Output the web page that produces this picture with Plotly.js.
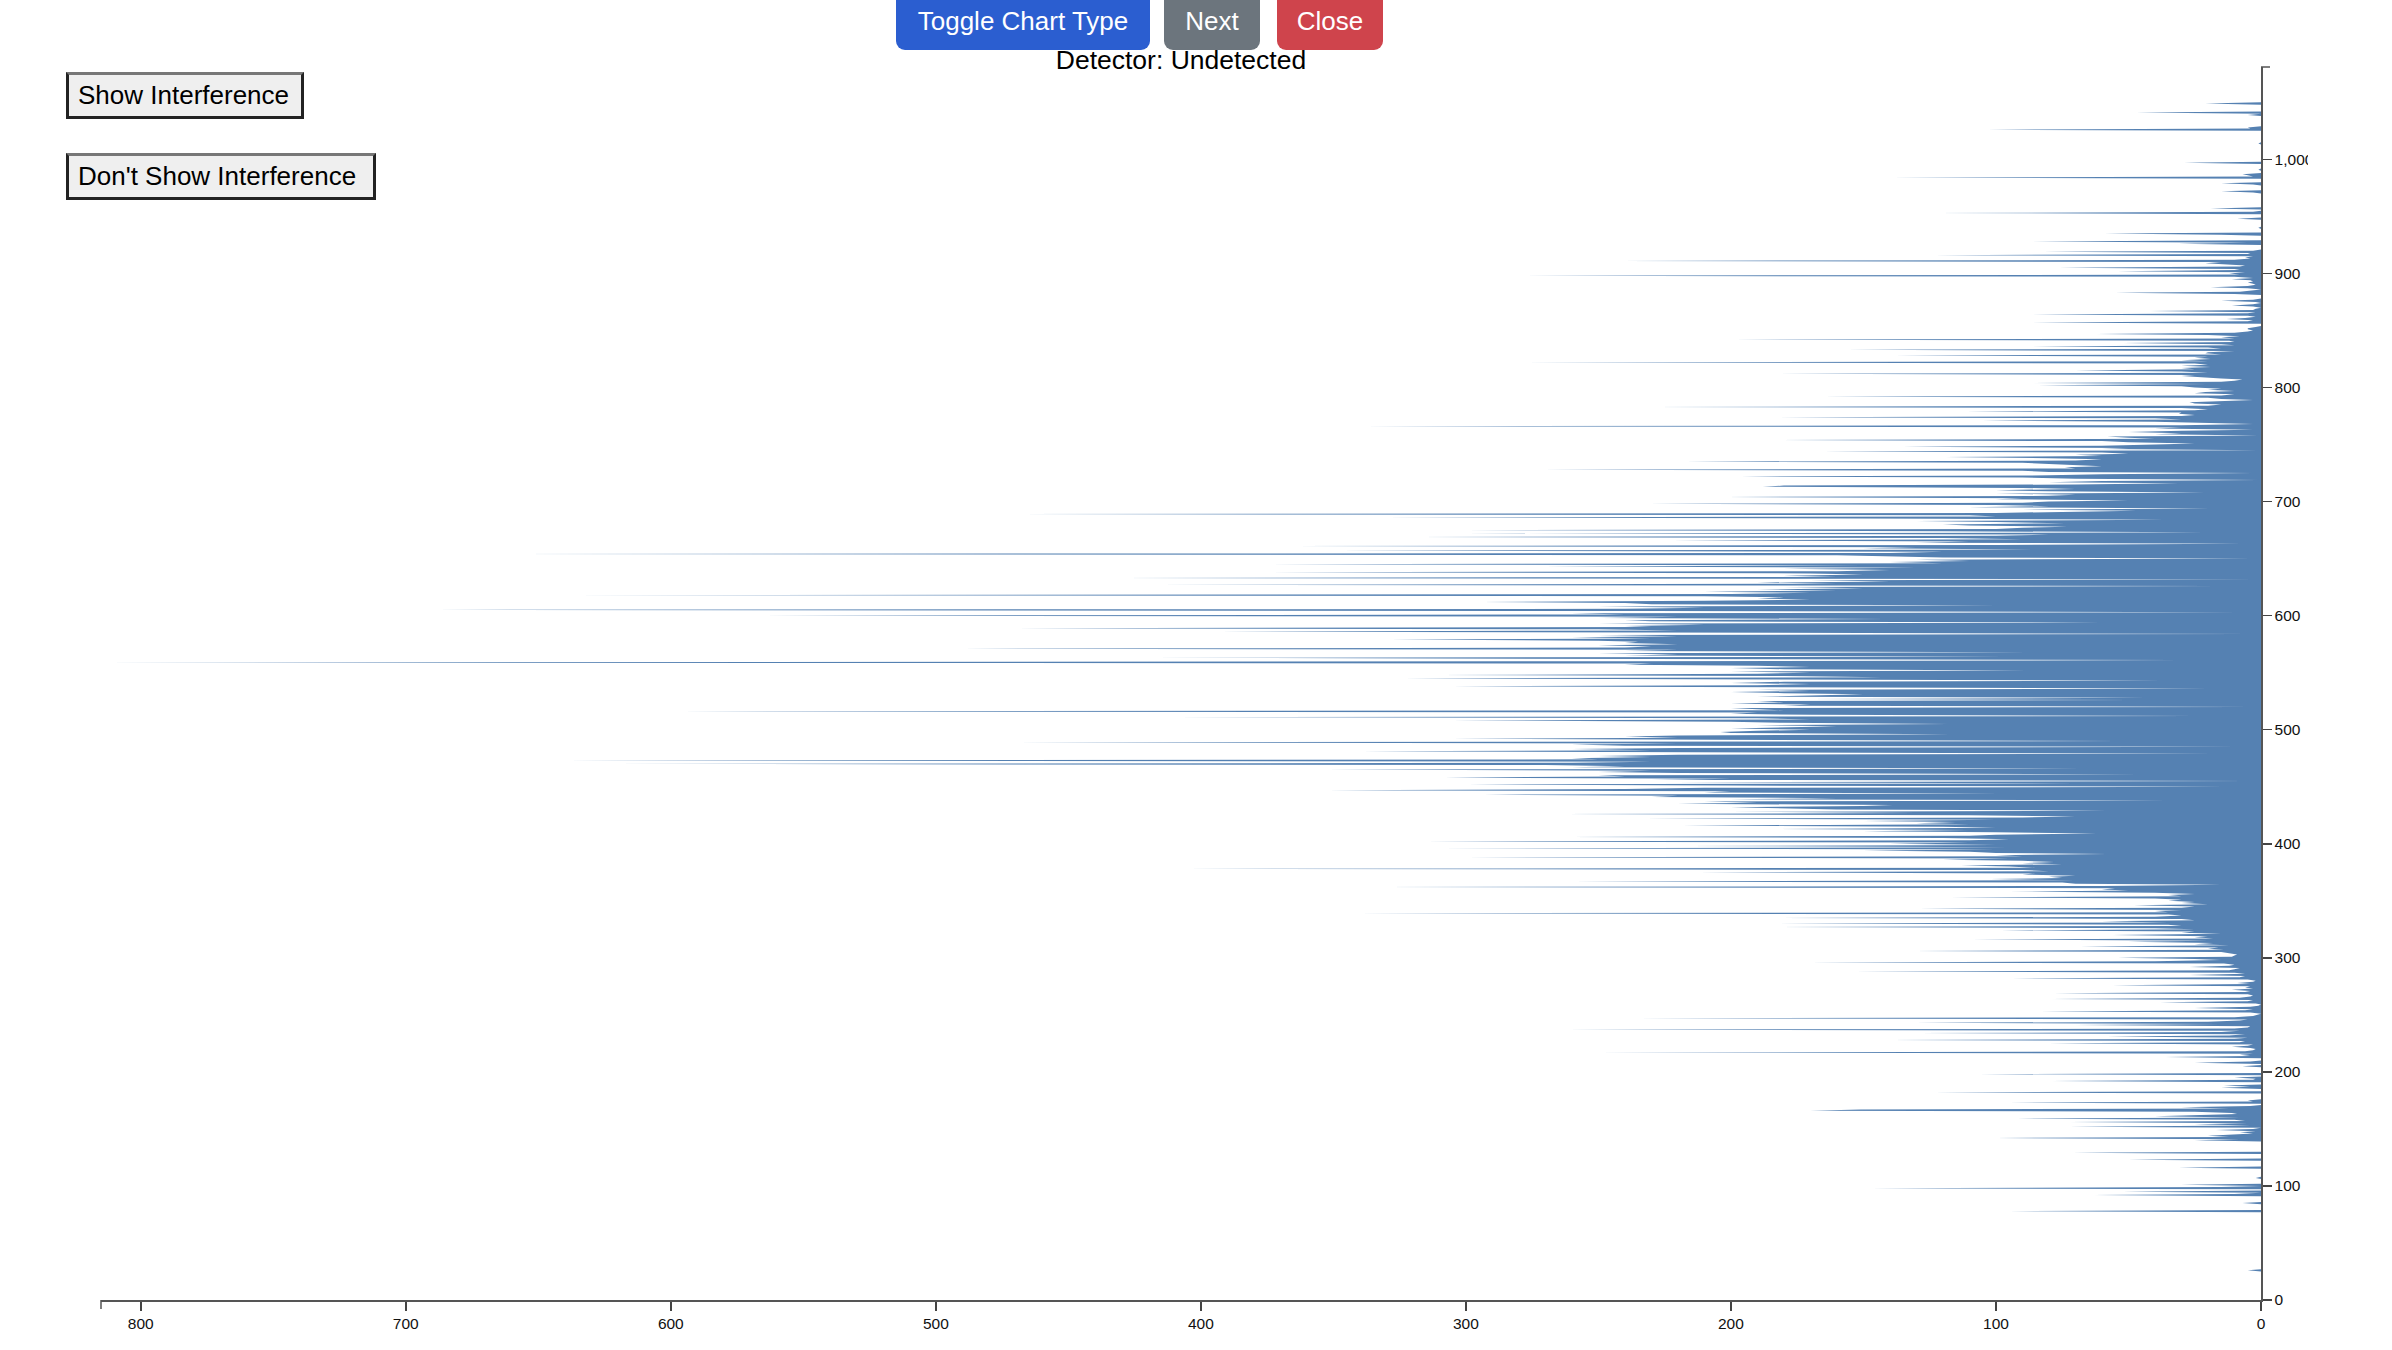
<!DOCTYPE html>
<html>
<head>
<meta charset="utf-8">
<script src="https://cdn.plot.ly/plotly-3.0.1.min.js"></script>
<style>
  body { margin: 0; background: #fff; font-family: Arial, "Liberation Sans", sans-serif; }
  #chart { position: absolute; left: 0; top: 0; width: 2308px; height: 1350px; overflow: hidden; }
  .btn {
    position: absolute; top: -8px; height: 58px; border: none; border-radius: 9px;
    color: #fff; font-size: 26px; font-family: Arial, "Liberation Sans", sans-serif;
    z-index: 5; padding: 0;
  }
  .plain {
    position: absolute; left: 66px; height: 47px; background: #efefef;
    border: 3px solid #222; border-top-color: #777;
    font-size: 26px; font-family: Arial, "Liberation Sans", sans-serif; color: #000;
    padding: 0 9px; text-align: left; z-index: 5; white-space: nowrap;
  }
</style>
</head>
<body>
<div id="chart"></div>
<button class="btn" style="left:896px;width:254px;background:#2b5ed0;">Toggle Chart Type</button>
<button class="btn" style="left:1164px;width:96px;background:#6c757d;">Next</button>
<button class="btn" style="left:1277px;width:106px;background:#cf444c;">Close</button>
<button class="plain" style="top:72px;width:238px;">Show Interference</button>
<button class="plain" style="top:153px;width:310px;">Don't Show Interference</button>
<script>
// sparse bins below the dense block (bin index -> count), unlisted bins are empty
const lowBins   = [26,78,85,92,93,95,98,99,101,107,116,123,129,140,141,142,143,144,145,146,147,148,149,150,152,153,154,155,156,157,158,159,160,161,162,163,164,165,166,167,168,169,170,173,174,175,182,186,187,188,192,193,194,195,198,205,208,209];
const lowCounts = [5,95,7,63,10,52,147,15,30,2,31,50,71,25,8,100,12,20,13,3,8,2,17,3,72,4,25,5,72,6,10,92,8,40,20,9,11,25,170,151,12,30,4,95,3,5,123,15,4,14,79,3,2,10,106,7,25,4];

// dense bins, consecutive from 212
const denseStartA = 212;
const denseA = [0,36,4,8,3,250,6,3,2,4,11,5,3,80,8,6,140,10,5,58,12,6,129,15,8,262,10,5,4,70,
  15,130,20,8,5,235,10,3,1,0,4,83,6,3,25,4,1,0,2,38,5,3,79,8,4,3,5,78,6,4,
  11,3,6,4,56,4,9,3,2,5,94,8,6,27,6,10,153,12,10,8,27,12,10,14,170,40,15,25,54,11,
  10,9,12,15,131,14,20,16,68,12,25,18,50,20,109,18,25,20,56,15,30,25,98,25,40,188,30,35,182,35,
  60,25,30,182,40,30,35,341,35,40,30,129,30,25,48,20,30,25,35,30,40,117,30,35,25,40,95,50,60,55,
  332,60,15,70,75,259,70,102,75,80,70,90,85,212,80,90,406,85,95,113,75,90,78,90,120,95,300,90,100,58,
  100,110,150,100,310,95,216,100,140,110,315,110,95,120,261,110,100,62,100,150,110,184,100,120,218,110,130,115,150,100,
  232,90,70,110,263,130,200,58,160,180];

const denseStartB = 432;
const denseB = [200,150,139,220,190,210,35,200,160,230,220,293,98,210,200,352,240,210,13,200,299,70,220,3,230,200,308,240,250,45,
  220,250,230,352,67,260,240,270,623,260,230,640,250,260,230,250,220,17,250,339,230,260,220,8,240,260,220,483,52,240,
  305,220,240,220,117,200,204,190,170,200,180,160,190,118,180,200,305,170,190,410,23,170,200,190,597,180,190,200,3,180,
  170,200,180,190,47,170,43,190,170,150,180,200,170,190,19,180,305,190,170,200,180,37,190,323,143,180,310,190,170,200,
  88,180,200,170,190,240,230,815,240,29,230,419,96,240,220,250,87,240,220,490,240,230,250,220,240,235,250,328,230,260,
  220,250,2,240,393,220,250,470,230,240,210,250,60,230,240,141,250,220,565,240,260,7,230,689,240,210,250,99,230,240,
  294,210,170,190,180,210,640,200,170,210,160,190,150,180,14,417,160,190,140,170,1,431,160,180,150,170,380,160,140,180,
  130,270,150,385,120,140,110,130,3,120];

const denseStartC = 652;
const denseC = [140,160,673,140,120,347,84,150,130,366,100,7,130,110,222,90,120,318,100,80,300,21,120,300,100,90,73,110,120,74,
  100,130,36,120,330,100,110,470,100,80,47,90,19,110,80,100,231,90,80,50,100,90,202,80,70,100,21,80,100,70,
  90,188,180,70,31,80,60,1,70,90,196,80,60,3,80,90,271,70,74,60,74,80,90,217,70,60,80,119,60,70,
  50,60,165,1,60,50,135,60,40,25,50,60,188,40,50,58,1,40,30,50,30,3,40,30,338,30,3,30,40,105,
  30,40,185,30,25,31,30,111,25,20,30,230,20,15,25,27,10,3,15,20,165,15,10,25,21,10,20,15,25,30,
  84,20,86,15,10,7,15,21,30,25,184,20,30,70,25,30,19,30,20,25,279,20,30,19,25,20,138,15,21,20,
  10,156,15,20,90,10,15,52,10,12,199,10,15,8,20,62,10,5,3,5,5,2,0,0,0,94,5,3,13,6,
  2,5,93,5,2,42,3,2];

// sparse bins above the dense block
const highBins   = [871,872,873,875,876,877,882,883,884,885,887,888,889,890,891,892,893,894,895,896,897,898,899,900,901,902,903,904,905,906,907,908,909,910,911,912,913,914,915,916,917,918,919,920,926,927,928,934,935,940,948,953,954,957,971,972,978,979,984,985,986,987,991,997,1014,1026,1027,1028,1039,1041,1049];
const highCounts = [3,11,3,2,15,3,10,55,8,3,5,19,5,2,3,5,3,4,11,3,10,300,8,12,6,54,8,10,76,8,6,15,21,15,242,10,4,6,3,123,5,4,82,3,31,5,93,15,59,1,9,123,3,19,3,15,3,15,139,3,5,7,1,29,1,103,4,5,5,47,21];

const binMax = 1081;
const xTicks = [0, 100, 200, 300, 400, 500, 600, 700, 800];
const yTicks = [0, 100, 200, 300, 400, 500, 600, 700, 800, 900, 1000];

// build histogram
const counts = new Array(binMax + 1).fill(0);
lowBins.forEach((b, i) => { counts[b] = lowCounts[i]; });
highBins.forEach((b, i) => { counts[b] = highCounts[i]; });
denseA.forEach((c, i) => { counts[denseStartA + i] = c; });
denseB.forEach((c, i) => { counts[denseStartB + i] = c; });
denseC.forEach((c, i) => { counts[denseStartC + i] = c; });
const bins = counts.map((c, i) => i);

const fillColor = "#5581b2";

const trace = {
  x: counts,
  y: bins,
  type: "scatter",
  mode: "lines",
  fill: "tozerox",
  fillcolor: fillColor,
  line: { color: fillColor, width: 0 },
  hoverinfo: "skip"
};

const axisFont = { family: "Arial, Liberation Sans, sans-serif", size: 15.5, color: "#111" };

const layout = {
  width: 2392,
  height: 1350,
  margin: { l: 101, r: 131, t: 67, b: 50 },
  paper_bgcolor: "#fff",
  plot_bgcolor: "#fff",
  showlegend: false,
  title: {
    text: "Detector: Undetected",
    font: { family: "Arial, Liberation Sans, sans-serif", size: 26.5, color: "#000" },
    xref: "container", yref: "container",
    x: 1181 / 2392, xanchor: "center",
    y: 1 - 60 / 1350, yanchor: "middle"
  },
  xaxis: {
    range: [815, 0], autorange: false,
    showgrid: false, zeroline: false,
    showline: true, linecolor: "#555", linewidth: 1.5,
    ticks: "outside", ticklen: 9, tickwidth: 1.5, tickcolor: "#444",
    tickvals: xTicks, tickfont: axisFont
  },
  yaxis: {
    range: [0, binMax], autorange: false, side: "right",
    showgrid: false, zeroline: false,
    showline: true, linecolor: "#555", linewidth: 1.5,
    ticks: "outside", ticklen: 9, tickwidth: 1.5, tickcolor: "#444",
    tickvals: yTicks, tickformat: ",d", tickfont: axisFont
  },
  shapes: [
    { type: "line", xref: "paper", yref: "paper", x0: 0, x1: 0,
      ysizemode: "pixel", yanchor: 0, y0: 0, y1: -9, line: { color: "#555", width: 1.5 } },
    { type: "line", xref: "paper", yref: "paper", y0: 1, y1: 1,
      xsizemode: "pixel", xanchor: 1, x0: 0, x1: 9, line: { color: "#555", width: 1.5 } }
  ]
};

Plotly.newPlot("chart", [trace], layout, { displayModeBar: false, staticPlot: true });
</script>
</body>
</html>
